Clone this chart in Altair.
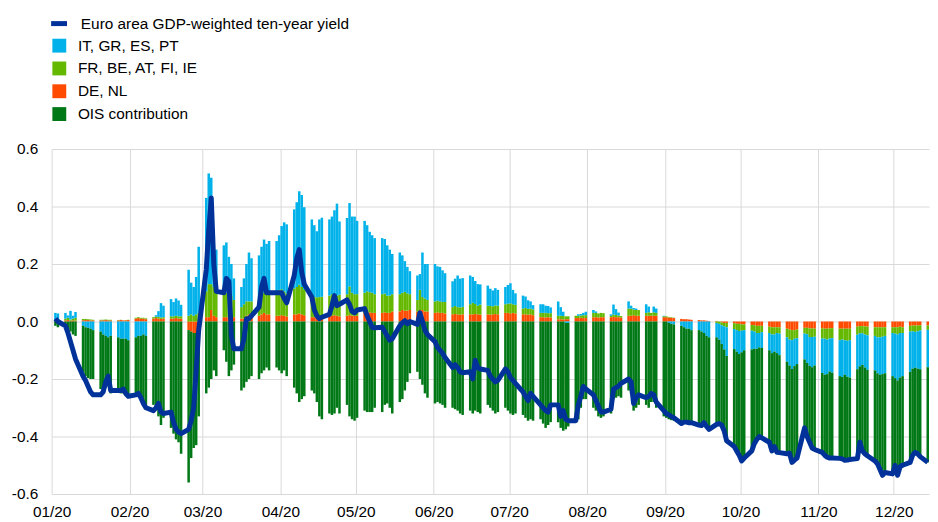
import altair as alt
import pandas as pd

S_LINE = "Euro area GDP-weighted ten-year yield"
S_IT = "IT, GR, ES, PT"
S_FR = "FR, BE, AT, FI, IE"
S_DE = "DE, NL"
S_OIS = "OIS contribution"

# business days, 2 Jan 2020 .. 14 Dec 2020 (one row per week after the first)
yld = [
    0.01, 0.0,
    -0.015, -0.04, -0.07, -0.1, -0.13,
    -0.19, -0.205, -0.225, -0.245, -0.255,
    -0.255, -0.245, -0.21, -0.19, -0.24,
    -0.24, -0.24, -0.235, -0.25, -0.26,
    -0.255, -0.25, -0.265, -0.285, -0.3,
    -0.31, -0.3, -0.285, -0.315, -0.32,
    -0.315, -0.35, -0.375, -0.385, -0.39,
    -0.375, -0.345, -0.3, -0.17, -0.03,
    0.18, 0.32, 0.43, 0.2, 0.105,
    0.1, 0.15, 0.14, -0.05, -0.095,
    -0.095, -0.06, 0.01, 0.01, 0.02,
    0.05, 0.12, 0.15, 0.1, 0.1,
    0.1, 0.1, 0.1, 0.08, 0.065,
    0.16, 0.22, 0.25, 0.17, 0.13,
    0.085, 0.04, 0.02, 0.01, 0.015,
    0.025, 0.055, 0.09, 0.055, 0.06,
    0.075, 0.06, 0.035, 0.03, 0.04,
    0.045, 0.02, 0.0, -0.02, -0.022,
    -0.02, -0.035, -0.05, -0.065, -0.06,
    -0.015, -0.005, 0.003, -0.008, 0.0,
    -0.01, 0.03, 0.0, -0.03, -0.045,
    -0.07, -0.09, -0.1, -0.11, -0.125,
    -0.16, -0.15, -0.16, -0.175, -0.178,
    -0.175, -0.2, -0.135, -0.16, -0.165,
    -0.17, -0.19, -0.2, -0.21, -0.205,
    -0.165, -0.175, -0.195, -0.205, -0.215,
    -0.245, -0.26, -0.275, -0.25, -0.26,
    -0.29, -0.3, -0.31, -0.315, -0.29,
    -0.29, -0.33, -0.31, -0.34, -0.345,
    -0.345, -0.29, -0.26, -0.226, -0.235,
    -0.255, -0.275, -0.295, -0.315, -0.315,
    -0.305, -0.235, -0.23, -0.225, -0.215,
    -0.2, -0.21, -0.285, -0.265, -0.255,
    -0.265, -0.26, -0.25, -0.255, -0.28,
    -0.31, -0.32, -0.325, -0.33, -0.335,
    -0.355, -0.35, -0.35, -0.352, -0.352,
    -0.36, -0.362, -0.352, -0.365, -0.375,
    -0.358, -0.355, -0.36, -0.38, -0.415,
    -0.435, -0.45, -0.465, -0.485, -0.475,
    -0.45, -0.425, -0.41, -0.4, -0.405,
    -0.42, -0.45, -0.435, -0.455, -0.456,
    -0.46, -0.458, -0.49, -0.482, -0.475,
    -0.37, -0.4, -0.42, -0.44, -0.445,
    -0.455, -0.465, -0.472, -0.475, -0.475,
    -0.476, -0.478, -0.483, -0.482, -0.48,
    -0.477, -0.42, -0.45, -0.46, -0.467,
    -0.485, -0.495, -0.515, -0.535, -0.525,
    -0.53, -0.5, -0.535, -0.505, -0.5,
    -0.49, -0.465, -0.455, -0.46, -0.47,
    -0.49,
]

de = [
    0.002, 0.003,
    0.004, 0.005, 0.003, 0.004, 0.003,
    0.004, 0.005, 0.005, 0.004, 0.004,
    0.004, 0.004, 0.005, 0.004, 0.004,
    0.004, 0.005, 0.004, 0.004, 0.005,
    0.01, 0.012, 0.01, 0.01, 0.008,
    0.01, 0.012, 0.01, 0.009, 0.01,
    0.01, 0.01, 0.012, 0.01, 0.01,
    -0.03, -0.035, -0.04, -0.04, -0.04,
    0.015, 0.015, 0.04, 0.02, 0.015,
    0.015, 0.015, 0.015, 0.02, 0.015,
    0.01, 0.01, 0.02, 0.025, 0.02,
    0.02, 0.025, 0.03, 0.025, 0.025,
    0.02, 0.02, 0.022, 0.02, 0.018,
    0.025, 0.025, 0.028, 0.025, 0.022,
    0.015, 0.015, 0.016, 0.015, 0.014,
    0.02, 0.02, 0.022, 0.02, 0.018,
    0.02, 0.022, 0.02, 0.02, 0.02,
    0.03, 0.03, 0.032, 0.03, 0.03,
    0.03, 0.032, 0.03, 0.03, 0.035,
    0.035, 0.04, 0.038, 0.038, 0.04,
    0.035, 0.04, 0.04, 0.035, 0.035,
    0.03, 0.032, 0.03, 0.03, 0.028,
    0.025, 0.026, 0.025, 0.024, 0.025,
    0.025, 0.025, 0.026, 0.025, 0.024,
    0.025, 0.024, 0.025, 0.026, 0.025,
    0.03, 0.03, 0.028, 0.03, 0.028,
    0.025, 0.025, 0.024, 0.025, 0.022,
    0.015, 0.015, 0.014, 0.015, 0.014,
    0.008, 0.008, 0.007, 0.008, 0.008,
    0.012, 0.012, 0.013, 0.012, 0.012,
    0.015, 0.015, 0.014, 0.015, 0.015,
    0.015, 0.016, 0.015, 0.015, 0.014,
    0.02, 0.02, 0.022, 0.02, 0.02,
    0.02, 0.02, 0.02, 0.02, 0.02,
    0.015, 0.015, 0.014, 0.013, 0.012,
    0.009, 0.008, 0.008, 0.007, 0.006,
    0.005, 0.004, 0.004, 0.003, 0.002,
    0.002, 0.0, -0.003, -0.005, -0.005,
    -0.006, -0.008, -0.008, -0.01, -0.01,
    -0.012, -0.013, -0.015, -0.015, -0.015,
    -0.018, -0.02, -0.02, -0.02, -0.02,
    -0.025, -0.028, -0.03, -0.03, -0.028,
    -0.022, -0.022, -0.024, -0.024, -0.025,
    -0.024, -0.025, -0.025, -0.024, -0.023,
    -0.025, -0.025, -0.025, -0.025, -0.025,
    -0.018, -0.016, -0.016, -0.017, -0.018,
    -0.02, -0.02, -0.02, -0.02, -0.02,
    -0.02, -0.02, -0.02, -0.018, -0.02,
    -0.015, -0.014, -0.014, -0.014, -0.013,
    -0.014,
]

fr = [
    0.003, 0.005,
    0.006, 0.008, 0.004, 0.006, 0.01,
    0.005, 0.004, 0.003, 0.003, 0.002,
    0.002, 0.002, 0.002, 0.002, 0.002,
    0.001, 0.001, 0.0, 0.001, 0.001,
    0.003, 0.003, 0.003, 0.003, 0.003,
    0.005, 0.005, 0.006, 0.005, 0.005,
    0.008, 0.008, 0.008, 0.008, 0.008,
    0.02, 0.025, 0.02, 0.025, 0.03,
    0.09, 0.115, 0.09, 0.1, 0.09,
    0.08, 0.085, 0.08, 0.07, 0.06,
    0.04, 0.05, 0.05, 0.045, 0.05,
    0.06, 0.07, 0.07, 0.075, 0.08,
    0.085, 0.09, 0.09, 0.085, 0.08,
    0.09, 0.095, 0.1, 0.095, 0.09,
    0.07, 0.07, 0.068, 0.07, 0.072,
    0.07, 0.075, 0.07, 0.07, 0.075,
    0.075, 0.1, 0.08, 0.075, 0.075,
    0.07, 0.075, 0.07, 0.07, 0.065,
    0.065, 0.065, 0.06, 0.06, 0.06,
    0.06, 0.06, 0.065, 0.06, 0.055,
    0.04, 0.07, 0.045, 0.045, 0.04,
    0.04, 0.04, 0.04, 0.038, 0.04,
    0.025, 0.028, 0.025, 0.025, 0.026,
    0.035, 0.04, 0.035, 0.03, 0.035,
    0.03, 0.03, 0.028, 0.03, 0.03,
    0.03, 0.032, 0.035, 0.03, 0.03,
    0.02, 0.022, 0.02, 0.02, 0.02,
    0.015, 0.015, 0.016, 0.014, 0.015,
    0.012, 0.012, 0.012, 0.01, 0.01,
    0.008, 0.008, 0.008, 0.01, 0.01,
    0.015, 0.015, 0.014, 0.015, 0.014,
    0.005, 0.008, 0.008, 0.006, 0.005,
    0.025, 0.025, 0.02, 0.02, 0.02,
    0.01, 0.012, 0.01, 0.012, 0.01,
    0.003, 0.003, 0.002, 0.002, 0.001,
    0.0, 0.0, 0.0, 0.0, 0.0,
    0.0, 0.0, 0.0, 0.0, 0.0,
    -0.005, -0.008, -0.01, -0.012, -0.015,
    -0.02, -0.022, -0.025, -0.022, -0.02,
    -0.02, -0.022, -0.025, -0.025, -0.022,
    -0.022, -0.025, -0.025, -0.02, -0.022,
    -0.03, -0.035, -0.035, -0.03, -0.03,
    -0.02, -0.022, -0.03, -0.03, -0.028,
    -0.035, -0.035, -0.038, -0.035, -0.035,
    -0.04, -0.038, -0.04, -0.042, -0.04,
    -0.028, -0.025, -0.025, -0.028, -0.03,
    -0.03, -0.035, -0.035, -0.033, -0.03,
    -0.02, -0.022, -0.025, -0.022, -0.02,
    -0.02, -0.02, -0.022, -0.02, -0.018,
    -0.015,
]

it = [
    0.025, 0.02,
    0.02, 0.008, 0.03, 0.01, 0.02,
    -0.015, -0.02, -0.022, -0.025, -0.03,
    -0.035, -0.045, -0.05, -0.055, -0.05,
    -0.055, -0.06, -0.06, -0.06, -0.065,
    -0.055, -0.05, -0.05, -0.045, -0.05,
    0.0, 0.005, 0.02, 0.05, 0.04,
    0.06, 0.05, 0.06, 0.055, 0.04,
    0.16, 0.11, 0.1, 0.13, 0.23,
    0.325, 0.385, 0.37, 0.18, 0.145,
    0.17, 0.175, 0.13, 0.11, 0.075,
    0.07, 0.09, 0.13, 0.17, 0.15,
    0.15, 0.165, 0.185, 0.17, 0.175,
    0.175, 0.19, 0.22, 0.24, 0.24,
    0.275, 0.295, 0.325, 0.32, 0.285,
    0.27, 0.25, 0.23, 0.27, 0.275,
    0.265, 0.27, 0.295, 0.32, 0.255,
    0.265, 0.29, 0.265, 0.27, 0.255,
    0.25, 0.23, 0.21, 0.2, 0.195,
    0.195, 0.19, 0.175, 0.16, 0.14,
    0.145, 0.13, 0.107, 0.092, 0.08,
    0.085, 0.055, 0.155, 0.12, 0.125,
    0.13, 0.12, 0.12, 0.11, 0.1,
    0.09, 0.095, 0.11, 0.1, 0.1,
    0.1, 0.09, 0.08, 0.075, 0.07,
    0.07, 0.06, 0.055, 0.06, 0.055,
    0.06, 0.065, 0.07, 0.05, 0.04,
    0.045, 0.04, 0.03, 0.025, 0.015,
    0.03, 0.03, 0.025, 0.025, 0.02,
    0.05, 0.03, 0.015, -0.005, -0.005,
    0.0, 0.005, 0.005, 0.008, 0.012,
    0.01, 0.005, 0.0, 0.0, 0.0,
    0.005, 0.035, 0.02, 0.01, 0.0,
    0.025, 0.01, 0.005, 0.005, 0.0,
    0.03, 0.02, 0.0, 0.02, 0.015,
    0.002, 0.0, -0.005, -0.008, -0.01,
    -0.015, -0.02, -0.025, -0.025, -0.03,
    -0.03, -0.035, -0.04, -0.05, -0.055,
    -0.05, -0.055, -0.065, -0.08, -0.1,
    -0.07, -0.075, -0.08, -0.075, -0.07,
    -0.065, -0.06, -0.055, -0.05, -0.055,
    -0.06, -0.065, -0.06, -0.07, -0.075,
    -0.085, -0.09, -0.1, -0.095, -0.09,
    -0.09, -0.1, -0.1, -0.105, -0.1,
    -0.12, -0.125, -0.12, -0.115, -0.12,
    -0.125, -0.13, -0.12, -0.125, -0.13,
    -0.12, -0.115, -0.11, -0.115, -0.12,
    -0.12, -0.125, -0.13, -0.13, -0.13,
    -0.15, -0.155, -0.16, -0.155, -0.15,
    -0.14, -0.13, -0.125, -0.13, -0.135,
    -0.13,
]

ois = [
    -0.015, -0.02,
    -0.02, -0.025, -0.035, -0.045, -0.05,
    -0.16, -0.17, -0.175, -0.175, -0.17,
    -0.2, -0.2, -0.18, -0.17, -0.2,
    -0.19, -0.19, -0.19, -0.2, -0.2,
    -0.205, -0.21, -0.22, -0.235, -0.245,
    -0.29, -0.3, -0.33, -0.36, -0.335,
    -0.37, -0.39, -0.41, -0.42, -0.46,
    -0.53, -0.44, -0.4, -0.39, -0.29,
    -0.25, -0.23, -0.2, -0.17, -0.19,
    -0.1, -0.14, -0.19, -0.17, -0.15,
    -0.24, -0.23, -0.21, -0.2, -0.19,
    -0.2, -0.18, -0.17, -0.16, -0.17,
    -0.16, -0.17, -0.18, -0.17, -0.19,
    -0.23, -0.25, -0.28, -0.27, -0.26,
    -0.24, -0.25, -0.28, -0.33, -0.34,
    -0.32, -0.325, -0.32, -0.3, -0.32,
    -0.29, -0.33, -0.34, -0.345, -0.335,
    -0.31, -0.315, -0.315, -0.315, -0.3,
    -0.315, -0.29, -0.285, -0.3, -0.32,
    -0.28, -0.27, -0.24, -0.21, -0.18,
    -0.175, -0.2, -0.22, -0.25, -0.265,
    -0.285, -0.28, -0.285, -0.29, -0.3,
    -0.3, -0.305, -0.31, -0.32, -0.325,
    -0.31, -0.32, -0.31, -0.315, -0.32,
    -0.29, -0.3, -0.31, -0.32, -0.315,
    -0.3, -0.31, -0.32, -0.325, -0.32,
    -0.325, -0.335, -0.345, -0.34, -0.345,
    -0.34, -0.355, -0.37, -0.36, -0.35,
    -0.35, -0.37, -0.38, -0.37, -0.36,
    -0.35, -0.34, -0.3, -0.27, -0.27,
    -0.3, -0.31, -0.33, -0.335, -0.33,
    -0.32, -0.27, -0.265, -0.26, -0.265,
    -0.24, -0.25, -0.31, -0.3, -0.29,
    -0.29, -0.3, -0.28, -0.28, -0.3,
    -0.33, -0.335, -0.335, -0.335, -0.335,
    -0.335, -0.33, -0.325, -0.325, -0.32,
    -0.33, -0.325, -0.315, -0.315, -0.32,
    -0.3, -0.29, -0.28, -0.28, -0.295,
    -0.34, -0.345, -0.35, -0.375, -0.375,
    -0.35, -0.33, -0.315, -0.31, -0.315,
    -0.32, -0.34, -0.33, -0.345, -0.34,
    -0.32, -0.305, -0.325, -0.327, -0.327,
    -0.24, -0.256, -0.266, -0.28, -0.29,
    -0.276, -0.28, -0.289, -0.301, -0.297,
    -0.286, -0.285, -0.298, -0.29, -0.285,
    -0.311, -0.264, -0.299, -0.3, -0.299,
    -0.315, -0.315, -0.33, -0.352, -0.345,
    -0.34, -0.303, -0.33, -0.31, -0.31,
    -0.315, -0.3, -0.294, -0.296, -0.304,
    -0.331,
]

month_ticks = ["2020-01-01", "2020-02-01", "2020-03-01", "2020-04-01",
               "2020-05-01", "2020-06-01", "2020-07-01", "2020-08-01",
               "2020-09-01", "2020-10-01", "2020-11-01", "2020-12-01"]
x_domain = ["2020-01-01", "2020-12-15"]
y_ticks = [-0.6, -0.4, -0.2, 0.0, 0.2, 0.4, 0.6]

COLORS = {S_IT: "#00B1EA", S_FR: "#65B800", S_DE: "#FF4B00", S_OIS: "#007816"}
LINE_COLOR = "#003299"
FONT = "Liberation Sans"

dates = pd.bdate_range("2020-01-02", "2020-12-14")
lens = [len(yld), len(de), len(fr), len(it), len(ois)]
if any(n != len(dates) for n in lens):
    raise ValueError(f"length mismatch: dates={len(dates)} series={lens}")


def ms(ts):
    return int(pd.Timestamp(ts, tz="UTC").value // 10**6)


DAY = 86400000
rows = []
for name, vals, order in [(S_DE, de, 0), (S_FR, fr, 1), (S_IT, it, 2), (S_OIS, ois, 3)]:
    for d, v in zip(dates, vals):
        s = ms(d)
        rows.append({"start": s, "end": s + DAY, "series": name, "value": v, "ord": order})
bars_df = pd.DataFrame(rows)

line_df = pd.DataFrame({
    "mid": [ms(d) + DAY // 2 for d in dates],
    "yield": yld,
    "series": [S_LINE] * len(dates),
})

xscale = alt.Scale(type="utc", domain=[ms(x_domain[0]), ms(x_domain[1])])
yscale = alt.Scale(domain=[-0.6, 0.6], nice=False, zero=False)

x_axis = alt.Axis(values=[ms(t) for t in month_ticks], title=None,
                  labelExpr="utcFormat(datum.value, '%m/%y')",
                  labelPadding=11, labelFlush=False, labelOverlap=False)
y_axis = alt.Axis(values=y_ticks, title=None,
                  labelExpr="replace(format(datum.value, '.1f'), '\u2212', '-')",
                  labelPadding=14, labelFlush=False)

bar_order = [S_IT, S_FR, S_DE, S_OIS]
bars = alt.Chart(bars_df).transform_stack(
    stack="value", groupby=["start"], as_=["v0", "v1"],
    sort=[alt.SortField("ord", order="ascending")], offset="zero",
).mark_bar(strokeWidth=0).encode(
    x=alt.X("start:T", scale=xscale, axis=x_axis),
    x2="end:T",
    y=alt.Y("v0:Q", scale=yscale, axis=y_axis),
    y2="v1:Q",
    color=alt.Color("series:N",
                    scale=alt.Scale(domain=bar_order, range=[COLORS[s] for s in bar_order]),
                    legend=alt.Legend(title=None, orient="none", legendX=0, legendY=-112,
                                      symbolType="square", symbolSize=196,
                                      symbolStrokeWidth=0, labelFont=FONT,
                                      labelFontSize=15.5, labelColor="#000",
                                      labelOffset=11, rowPadding=6, padding=0,
                                      labelLimit=600)),
)

line = alt.Chart(line_df).mark_line(strokeWidth=5, strokeJoin="round").encode(
    x=alt.X("mid:T", scale=xscale),
    y=alt.Y("yield:Q", scale=yscale),
    stroke=alt.Stroke("series:N",
                      scale=alt.Scale(domain=[S_LINE], range=[LINE_COLOR]),
                      legend=alt.Legend(title=None, orient="none", legendX=-3, legendY=-137,
                                        symbolType="stroke", symbolSize=256,
                                        symbolStrokeWidth=5, labelFont=FONT,
                                        labelFontSize=15.5, labelColor="#000",
                                        labelOffset=11.5, padding=0, labelLimit=600)),
)

chart = alt.layer(bars, line).properties(
    width=885, height=348,
    padding={"left": 44, "top": 140, "right": 1, "bottom": 26},
    autosize=alt.AutoSizeParams(type="none"),
).configure_view(stroke=None).configure_axis(
    grid=True, gridColor="#d9d9d9", gridWidth=1, domain=False, ticks=False, tickSize=0,
    labelFont=FONT, labelFontSize=15.5, labelColor="#000",
)

chart.save("out.html", embed_options={"renderer": "svg", "actions": False})
